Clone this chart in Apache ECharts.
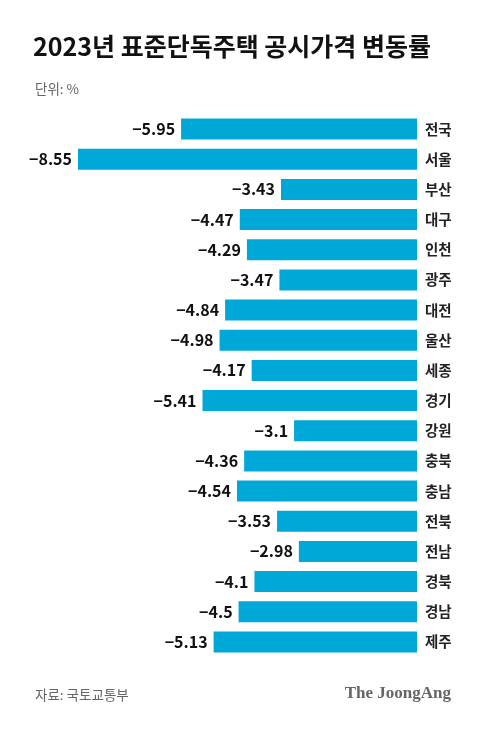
<!DOCTYPE html>
<html><head><meta charset="utf-8">
<script src="https://cdn.jsdelivr.net/npm/echarts@6/dist/echarts.min.js"></script>
<style>html,body{margin:0;padding:0;background:#fff}#c{width:480px;height:735px}</style>
</head><body><div id="c"></div>
<script>
const categories = ['전국','서울','부산','대구','인천','광주','대전','울산','세종','경기','강원','충북','충남','전북','전남','경북','경남','제주'];
const values = [-5.95,-8.55,-3.43,-4.47,-4.29,-3.47,-4.84,-4.98,-4.17,-5.41,-3.1,-4.36,-4.54,-3.53,-2.98,-4.1,-4.5,-5.13];
const titleText = '2023년 표준단독주택 공시가격 변동률';
const unitText = '단위: %';
const sourceText = '자료: 국토교통부';
const logoText = 'The JoongAng';

const KR = '"Noto Sans CJK KR", "Noto Sans", sans-serif';
const chart = echarts.init(document.getElementById('c'));
chart.setOption({
  animation: false,
  backgroundColor: '#fff',
  title: [
    {text: titleText, left: 28, top: 29, textStyle: {fontFamily: KR, fontSize: 25, fontWeight: 'bold', color: '#111'}},
    {text: unitText, left: 30, top: 77, textStyle: {fontFamily: KR, fontSize: 13.5, fontWeight: 'normal', color: '#666'}},
    {text: sourceText, left: 30, top: 683, textStyle: {fontFamily: KR, fontSize: 13.5, fontWeight: 'normal', color: '#666'}},
    {text: logoText, right: 24, top: 680, textStyle: {fontFamily: '"Liberation Serif", "DejaVu Serif", serif', fontSize: 17, fontWeight: 'bold', color: '#666'}}
  ],
  grid: {left: 78, right: 63, top: 114, height: 543, containLabel: false},
  xAxis: {type: 'value', min: Math.min(...values), max: 0, show: false},
  yAxis: {
    type: 'category', data: categories, inverse: true, position: 'right',
    axisLine: {show: false}, axisTick: {show: false}, splitLine: {show: false},
    axisLabel: {margin: 8, fontFamily: KR, fontSize: 14.5, fontWeight: 'bold', color: '#222', align: 'left'}
  },
  series: [{
    type: 'bar', data: values, barWidth: 21,
    itemStyle: {color: '#00a8d8'},
    label: {
      show: true, position: 'left', distance: 6,
      fontFamily: KR, fontSize: 16, fontWeight: 'bold', color: '#111',
      formatter: p => String(p.value).replace('-', '−')
    }
  }]
});
</script></body></html>
